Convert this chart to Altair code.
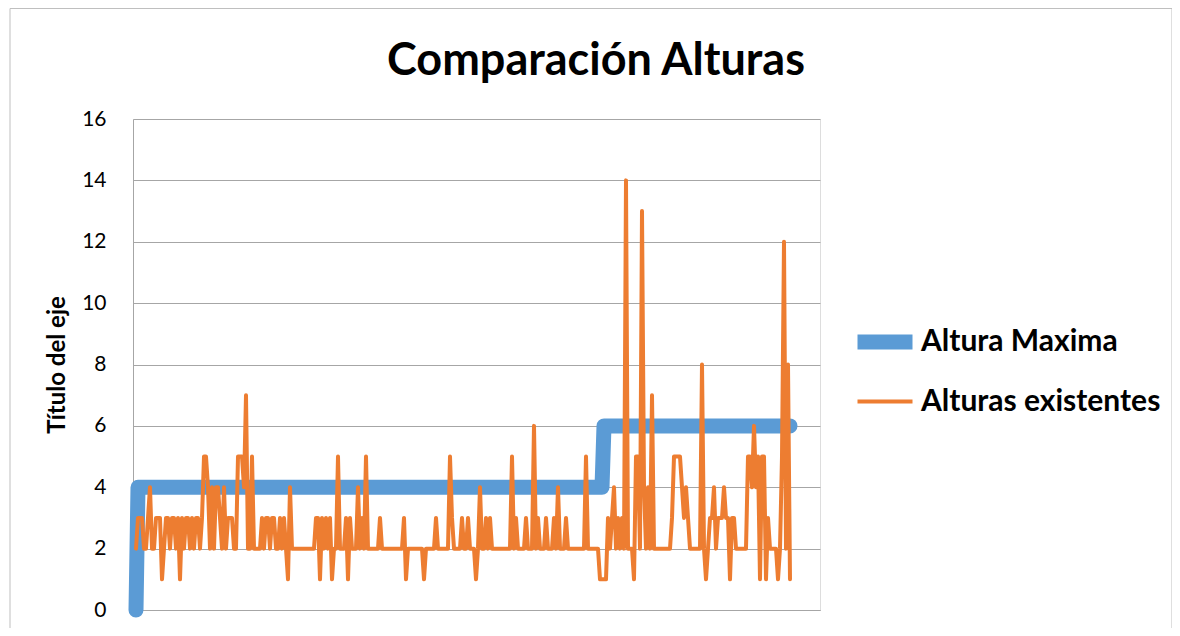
import altair as alt
import pandas as pd

series_names = ["Altura Maxima", "Alturas existentes"]
series_colors = ["#5b9bd5", "#ed7d31"]
chart_title = "Comparación Alturas"
y_title = "Título del eje"

# Altura Maxima: 0 at the first point, 4 up to index 233, then 6
altura_maxima = [0] + [4] * 233 + [6] * 94

alturas_existentes = [
    2, 3, 3, 3, 2, 2, 3, 4, 2, 2,
    3, 3, 3, 1, 2, 3, 3, 2, 3, 3,
    2, 3, 1, 3, 2, 3, 3, 2, 3, 2,
    3, 3, 2, 3, 5, 5, 4, 2, 4, 2,
    4, 4, 3, 2, 4, 2, 3, 3, 3, 2,
    2, 5, 5, 5, 4, 7, 2, 2, 5, 2,
    2, 2, 2, 3, 2, 3, 3, 2, 3, 3,
    2, 2, 3, 2, 3, 2, 1, 4, 2, 2,
    2, 2, 2, 2, 2, 2, 2, 2, 2, 2,
    3, 3, 1, 3, 2, 3, 2, 3, 1, 2,
    2, 5, 2, 2, 2, 3, 1, 3, 2, 2,
    2, 4, 2, 3, 2, 5, 2, 2, 2, 2,
    2, 2, 3, 2, 2, 2, 2, 2, 2, 2,
    2, 2, 2, 2, 3, 1, 2, 2, 2, 2,
    2, 2, 2, 2, 1, 2, 2, 2, 2, 2,
    3, 2, 2, 2, 2, 2, 2, 5, 3, 2,
    2, 2, 2, 3, 2, 2, 3, 2, 2, 2,
    1, 2, 4, 2, 2, 3, 2, 3, 2, 2,
    2, 2, 2, 2, 2, 2, 2, 2, 5, 2,
    3, 2, 2, 2, 2, 3, 2, 2, 2, 6,
    2, 3, 2, 2, 2, 3, 2, 2, 2, 3,
    2, 4, 2, 2, 2, 3, 2, 2, 2, 2,
    2, 2, 2, 2, 2, 5, 2, 2, 2, 2,
    2, 2, 1, 1, 1, 1, 3, 2, 3, 4,
    2, 3, 2, 3, 2, 14, 2, 2, 2, 1,
    5, 5, 2, 13, 4, 2, 4, 2, 7, 2,
    2, 2, 2, 2, 2, 2, 2, 2, 3, 5,
    5, 5, 5, 4, 3, 4, 3, 2, 2, 2,
    2, 2, 2, 8, 2, 1, 2, 3, 3, 4,
    2, 3, 3, 3, 4, 3, 3, 1, 3, 3,
    2, 2, 2, 2, 2, 2, 5, 5, 4, 6,
    4, 5, 1, 5, 5, 1, 3, 2, 2, 2,
    2, 1, 2, 5, 12, 2, 8, 1,
]

y_ticks = [0, 2, 4, 6, 8, 10, 12, 14, 16]

rows = []
for i, v in enumerate(altura_maxima):
    rows.append({"idx": i, "valor": v, "serie": series_names[0]})
for i, v in enumerate(alturas_existentes):
    rows.append({"idx": i, "valor": v, "serie": series_names[1]})
df = pd.DataFrame(rows)

FONT = "Lato"
GRID = "#a6a6a6"

legend_common = dict(
    title=None,
    orient="none",
    legendX=717,
    legendY=188,
    symbolType="stroke",
    symbolSize=3025,
    labelFontSize=30,
    labelFontWeight="bold",
    labelFont=FONT,
    labelColor="#000000",
    labelLimit=500,
    labelOffset=1,
    rowPadding=-7,
)

lines = alt.Chart(df).mark_line(strokeCap="round", strokeJoin="round").encode(
    x=alt.X(
        "idx:Q",
        scale=alt.Scale(domain=[-1.5, 342], nice=False, zero=False),
        axis=alt.Axis(labels=False, ticks=False, grid=False, title=None,
                      domainColor=GRID, domainWidth=1),
    ),
    y=alt.Y(
        "valor:Q",
        scale=alt.Scale(domain=[0, 16], nice=False),
        axis=alt.Axis(values=y_ticks, title=y_title, grid=True,
                      gridColor=GRID, gridWidth=1, ticks=False,
                      domainColor=GRID, labelFontSize=21, labelFont=FONT,
                      labelColor="#000000", labelPadding=27,
                      titleFont=FONT, titleFontSize=24, titleFontWeight="bold",
                      titleColor="#000000", titlePadding=12),
    ),
    color=alt.Color("serie:N", scale=alt.Scale(domain=series_names, range=series_colors),
                    legend=alt.Legend(**legend_common)),
    strokeWidth=alt.StrokeWidth("serie:N", scale=alt.Scale(domain=series_names, range=[15, 4]),
                                legend=alt.Legend(**legend_common)),
    detail="serie:N",
)

border = alt.Chart(alt.Data(values=[{"b": 1}])).mark_rect(
    fill=None, stroke="#bfbfbf", strokeWidth=1
).encode(
    x=alt.value(-123), x2=alt.value(1039), y=alt.value(-110.5), y2=alt.value(530)
)

title_text = alt.Chart(alt.Data(values=[{"t": chart_title}])).mark_text(
    font=FONT, fontSize=45, fontWeight="bold", color="#000000",
    align="center", baseline="alphabetic"
).encode(
    x=alt.value(463), y=alt.value(-44), text="t:N"
)

chart = alt.layer(border, lines, title_text).properties(
    width=687,
    height=491,
    autosize=alt.AutoSizeParams(type="none"),
    padding={"left": 125, "top": 111, "right": 352, "bottom": 18},
).configure_view(stroke=None).configure(background="white")

chart.save("out.html", embed_options={"renderer": "svg", "actions": False})
